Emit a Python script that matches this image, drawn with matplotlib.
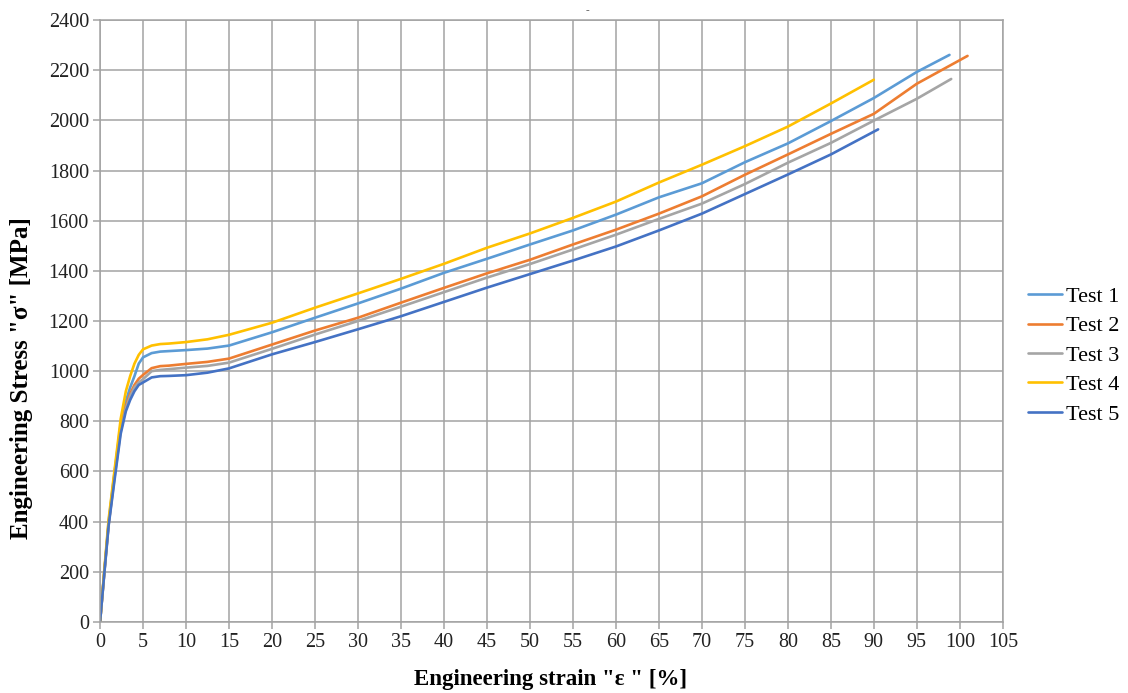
import matplotlib
matplotlib.use("Agg")
import matplotlib.pyplot as plt

plt.rcParams['font.family'] = ['Liberation Serif', 'DejaVu Serif']

# strain [%] / stress [MPa]
early = [0, 0.5, 1, 1.7, 2.4, 3, 3.5, 4, 4.5, 5, 6, 7, 8, 10, 12.5]
mid = [15, 20, 25, 30, 35, 40, 45, 50, 55, 60, 65, 70, 75, 80, 85]

strain_1 = early + mid + [90, 95, 98.8]
stress_1 = [0, 200, 400, 600, 790, 880, 935, 980, 1030, 1055, 1072, 1078, 1080, 1084, 1090,
            1102, 1155, 1213, 1270, 1329, 1392, 1448, 1505, 1561, 1624, 1693, 1749, 1833, 1908, 1997,
            2089, 2193, 2261]

strain_2 = early + mid + [90, 95, 100.9]
stress_2 = [0, 200, 390, 590, 770, 860, 910, 945, 970, 985, 1012, 1020, 1022, 1029, 1037,
            1050, 1106, 1162, 1213, 1273, 1332, 1390, 1444, 1505, 1564, 1628, 1697, 1783, 1864, 1946,
            2026, 2146, 2257]

strain_3 = early + mid + [90, 95, 99.0]
stress_3 = [0, 200, 390, 580, 760, 850, 900, 935, 955, 968, 1000, 1005, 1008, 1014, 1021,
            1034, 1089, 1146, 1200, 1257, 1315, 1373, 1427, 1485, 1544, 1607, 1668, 1746, 1831, 1910,
            1999, 2086, 2165]

strain_4 = early + mid + [90]
stress_4 = [0, 210, 410, 610, 810, 920, 980, 1030, 1065, 1087, 1102, 1108, 1110, 1116, 1127,
            1145, 1193, 1253, 1310, 1368, 1428, 1492, 1549, 1611, 1676, 1752, 1823, 1897, 1975, 2067,
            2162]

strain_5 = early + mid + [90.5]
stress_5 = [0, 195, 385, 570, 750, 840, 885, 920, 945, 955, 975, 980, 981, 984, 994,
            1011, 1067, 1116, 1167, 1219, 1276, 1333, 1387, 1441, 1497, 1561, 1628, 1706, 1784, 1864,
            1964]

labels = ["Test 1", "Test 2", "Test 3", "Test 4", "Test 5"]
colors = ["#5B9BD5", "#ED7D31", "#A5A5A5", "#FFC000", "#4472C4"]

fig = plt.figure(figsize=(11.28, 6.93), dpi=100)
ax = fig.add_axes([0.0887, 0.1025, 0.8003, 0.8686])

series = [(strain_1, stress_1), (strain_2, stress_2), (strain_3, stress_3),
          (strain_4, stress_4), (strain_5, stress_5)]
for (xs, ys), lab, c in zip(series, labels, colors):
    ax.plot(xs, ys, color=c, lw=1.9, label=lab, solid_capstyle='round')

ax.set_xlim(0, 105)
ax.set_ylim(0, 2400)
ax.set_xticks(range(0, 106, 5))
ax.set_yticks(range(0, 2401, 200))
ax.grid(True, color="#A3A3A3", lw=1.1)
ax.set_axisbelow(True)
for s in ax.spines.values():
    s.set_color("#A3A3A3")
    s.set_linewidth(1.1)
ax.tick_params(colors="#A3A3A3", labelcolor="#222222", labelsize=14.5, length=5, width=1.1, pad=3)

# axis titles placed as figure text to match the reference
fig.text(551 / 1128, 0.019, 'Engineering strain "ε " [%]', fontsize=16.5,
         fontweight='bold', ha='center', va='center')
fig.text(22 / 1128, 0.4545, 'Engineering Stress "σ" [MPa]', fontsize=18,
         fontweight='bold', ha='center', va='center', rotation=90)

fig.text(0.521, 0.985, "-", fontsize=8, ha='center', va='center', color="#555555")

leg = ax.legend(loc='center left', bbox_to_anchor=(0.9113, 0.487),
                bbox_transform=fig.transFigure, frameon=False, borderaxespad=0, borderpad=0,
                fontsize=16, handlelength=1.55, handletextpad=0.15, labelspacing=0.4)

fig.savefig("out.png", dpi=100)
